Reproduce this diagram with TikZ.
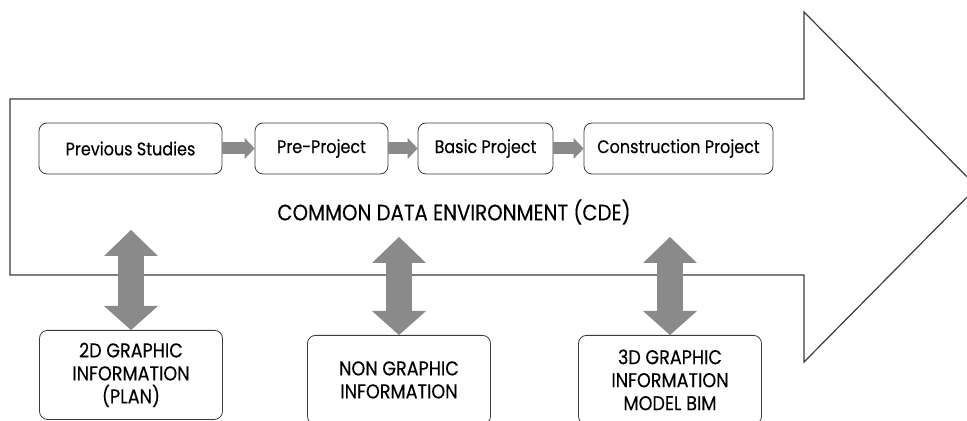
\documentclass[tikz,border=0pt]{standalone}
\usepackage{fontspec}
\setmainfont{Poppins}[FakeStretch=0.88, FakeBold=0.3]
\usetikzlibrary{arrows.meta}

\definecolor{blockgray}{HTML}{8A8A8A}
\definecolor{linegray}{HTML}{3A3A3A}

\tikzset{
  phase/.style={draw=linegray, fill=white, rounded corners=4pt, inner sep=0pt,
    minimum height=25.5pt, font=\fontsize{9.1}{10}\selectfont},
  info/.style={phase, anchor=north, align=center, minimum width=91.5pt,
    minimum height=44.5pt, font=\fontsize{10}{11.5}\selectfont},
  flow/.style={draw=blockgray, line width=6pt,
    -{Triangle[length=5pt,width=10.5pt,line width=0pt]}},
  link/.style={draw=blockgray, line width=13pt,
    {Triangle[length=13pt,width=27pt,line width=0pt]}-{Triangle[length=12pt,width=27pt,line width=0pt]}}
}

\begin{document}
\begin{tikzpicture}[x=0.5pt,y=-0.5pt]

\useasboundingbox (0,0) rectangle (967,421);

% Big arrow of the common data environment
\draw [linegray, line width=0.6pt, line join=miter]
  (10,99) -- (804,99) -- (804,12) -- (977,187) -- (804,362) -- (804,275) -- (10,275) -- cycle;

% Project phases
\node [phase, minimum width=91.5pt] (ps) at (130.5,148.5) {Previous Studies};
\node [phase, minimum width=66.5pt] (pp) at (321.5,148.5) {Pre-Project};
\node [phase, minimum width=67.5pt] (bp) at (485.5,148.5) {Basic Project};
\node [phase, minimum width=94.5pt] (cp) at (678.5,148.5) {Construction Project};

\draw [flow] (ps.east) -- (pp.west);
\draw [flow] (pp.east) -- (bp.west);
\draw [flow] (bp.east) -- (cp.west);

\node [font=\fontsize{11.2}{12}\selectfont] (cde) at (454,212) {COMMON DATA ENVIRONMENT (CDE)};

% Information types
\node [info] (info2d) at (131,330) {2D GRAPHIC\\INFORMATION\\(PLAN)};
\node [info] (infong) at (399,335) {NON GRAPHIC\\INFORMATION};
\node [info] (info3d) at (670,335) {3D GRAPHIC\\INFORMATION\\MODEL BIM};

\coordinate (l2d) at (131,230);
\coordinate (lng) at (399,237);
\coordinate (l3d) at (670,237);

\draw [link] (l2d) -- (info2d.north);
\draw [link] (lng) -- (infong.north);
\draw [link] (l3d) -- (info3d.north);

\end{tikzpicture}
\end{document}
